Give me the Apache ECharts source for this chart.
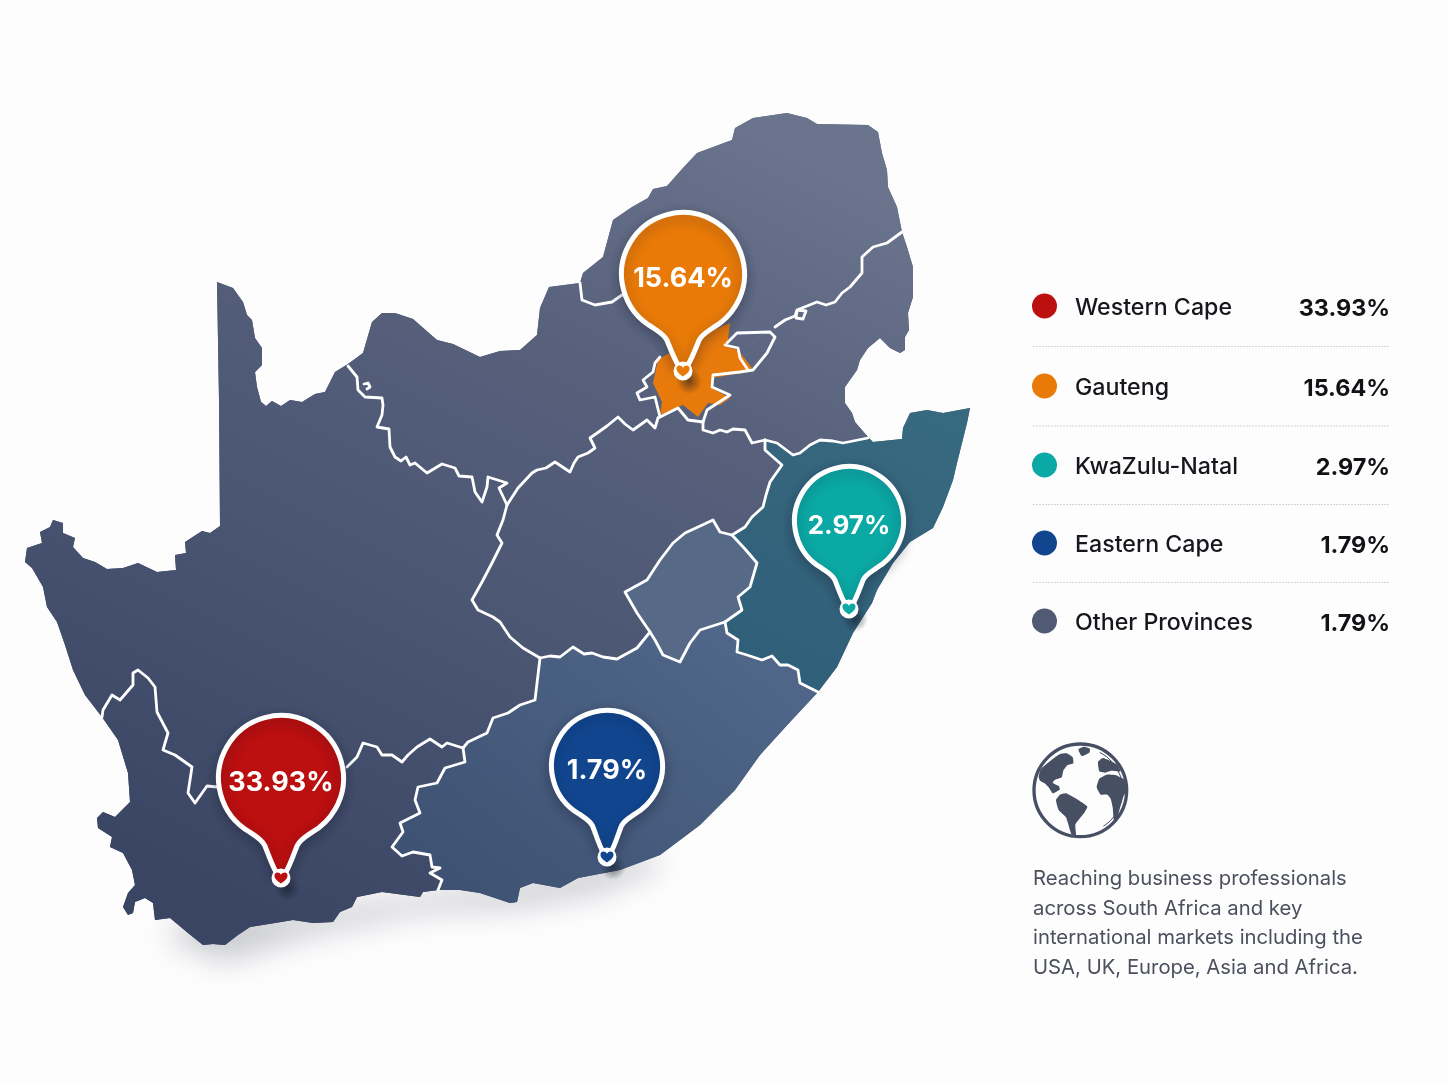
<!DOCTYPE html>
<html>
<head>
<meta charset="utf-8">
<title>South Africa reach</title>
<style>
html,body{margin:0;padding:0;background:#fdfdfe;}
#chart{width:1448px;height:1086px;}
</style>
<script src="https://cdn.jsdelivr.net/npm/echarts@6/dist/echarts.min.js"></script>
</head>
<body>
<div id="chart"></div>
<script>
// legend / pins
var names = ['Western Cape', 'Gauteng', 'KwaZulu-Natal', 'Eastern Cape', 'Other Provinces'];
var shares = [33.93, 15.64, 2.97, 1.79, 1.79];
var colors = ['#bb0f10', '#e97a08', '#0ba9a5', '#11468f', '#505a73'];
var pinTips = [[281, 878], [683, 371], [849, 609], [607, 857]];
var pinRadius = [65, 64, 57, 58];
var pinDrop = [100, 97, 88, 91];
var pinFont = [27, 27, 26, 27];
var blurb = ['Reaching business professionals', 'across South Africa and key', 'international markets including the', 'USA, UK, Europe, Asia and Africa.'];

// coast, clockwise
var coastNC = [[102,717],[85,695],[73,670],[65,645],[57,622],[47,607],[43,587],[32,568],[25,562],[27,548],[42,543],[40,532],[50,527],[53,520],[63,523],[63,533],[75,538],[73,547],[83,558],[95,562],[107,569],[123,568],[138,563],[157,572],[176,570],[175,555],[186,553],[185,542],[202,531],[210,533],[220,526],[219,400],[217,282],[233,288],[243,302],[247,315],[252,320],[255,338],[262,348],[262,365],[255,372],[257,387],[261,402],[266,406],[272,401],[281,406],[290,400],[302,402],[315,394],[325,392],[335,372],[348,364]];
var coastNW = [[348,364],[363,353],[372,322],[382,313],[395,313],[413,319],[437,340],[453,344],[480,357],[500,351],[520,350],[537,335],[540,308],[549,287],[580,283]];
var coastLP = [[580,283],[583,273],[603,257],[613,220],[632,207],[648,198],[653,189],[667,186],[683,168],[697,153],[732,140],[735,128],[753,118],[787,113],[807,118],[817,124],[868,125],[878,132],[882,153],[887,170],[888,187],[897,207],[902,232]];
var coastMP = [[902,232],[907,247],[913,267],[913,297],[908,313],[909,330],[905,337],[905,350],[900,353],[890,348],[880,338],[868,348],[860,360],[857,370],[845,387],[845,403],[852,413],[855,422],[868,437]];
var coastKZN = [[868,437],[873,442],[902,439],[903,428],[910,413],[927,410],[943,413],[970,408],[967,423],[957,463],[953,480],[943,507],[933,528],[910,542],[893,563],[877,590],[872,603],[853,633],[837,667],[818,692]];
var coastEC = [[818,692],[790,722],[760,755],[735,790],[700,825],[660,855],[620,870],[578,878],[560,888],[533,883],[520,888],[517,902],[510,903],[480,893],[460,890],[438,890]];
var coastWC = [[438,890],[423,892],[420,897],[382,892],[357,897],[352,907],[340,912],[333,922],[313,923],[293,920],[275,923],[250,927],[238,935],[225,945],[213,944],[203,945],[188,933],[170,918],[155,920],[153,903],[145,898],[135,902],[133,913],[128,915],[123,907],[128,893],[135,885],[132,870],[123,853],[110,847],[112,837],[98,828],[97,818],[103,812],[115,817],[130,802],[128,773],[118,740],[102,717]];
var southBand = [[165,905],[225,930],[300,905],[420,880],[520,875],[600,860],[660,835],[650,820],[520,850],[300,880],[200,880]];

// province borders
var bNwNc = [[348,366],[357,377],[358,390],[365,397],[382,398],[383,405],[382,415],[377,427],[389,429],[390,447],[395,457],[401,461],[406,457],[410,465],[415,463],[427,473],[442,464],[455,468],[459,476],[472,477],[475,492],[482,502],[487,487],[488,477],[507,483],[499,488],[507,505]];
var bNwFs = [[507,505],[518,488],[532,473],[537,470],[546,468],[555,462],[570,472],[574,463],[578,457],[588,453],[595,448],[590,438],[600,431],[607,426],[618,417],[625,424],[633,430],[647,420],[655,428],[658,418]];
var bFsNc = [[540,658],[523,648],[510,637],[500,622],[493,617],[478,610],[472,600],[482,582],[492,563],[502,543],[497,535],[503,520],[507,505]];
var bFsEc = [[650,632],[637,648],[617,659],[603,657],[592,653],[584,654],[573,647],[560,657],[550,656],[540,658]];
var bFsLes = [[732,535],[720,532],[713,520],[698,527],[685,533],[673,543],[660,560],[647,580],[625,592],[637,613],[650,632]];
var bFsKzn = [[765,440],[765,450],[782,465],[770,482],[766,495],[763,507],[752,517],[745,527],[732,535]];
var bFsGt = [[658,418],[678,408],[688,420],[703,422]];
var bFsMp = [[703,422],[703,430],[713,433],[720,430],[727,432],[733,429],[745,430],[752,443],[765,440]];
var bMpKzn = [[868,438],[843,443],[833,441],[820,440],[810,445],[800,453],[793,455],[777,443],[765,440]];
var bKznLes = [[732,535],[745,549],[757,563],[750,587],[738,597],[742,610],[725,622]];
var bLesEc = [[725,622],[700,630],[690,643],[680,662],[663,655],[655,640],[650,632]];
var bKznEc = [[725,622],[727,633],[738,640],[737,652],[747,655],[753,657],[762,660],[772,656],[780,665],[788,665],[798,670],[800,683],[810,688],[818,692]];
var bNcEc = [[540,658],[535,700],[520,705],[508,713],[493,718],[487,733],[468,742],[463,748]];
var bWcEc = [[463,748],[465,762],[445,768],[437,783],[418,787],[415,800],[420,813],[400,823],[403,832],[392,847],[402,856],[413,852],[430,855],[432,867],[440,868],[430,873],[442,880],[438,890]];
var bNcWc = [[463,748],[447,743],[442,747],[430,739],[417,747],[408,755],[402,762],[392,755],[382,755],[377,747],[363,743],[357,757],[347,767],[217,787],[207,786],[195,803],[188,793],[192,767],[175,755],[163,750],[168,733],[157,712],[155,687],[148,678],[138,670],[133,673],[133,685],[120,700],[112,695],[103,710],[102,717]];
var bLpNw = [[580,283],[582,300],[595,305],[612,302],[622,295],[640,330],[660,357]];
var bGtNw = [[660,357],[655,363],[653,372],[643,380],[647,387],[637,393],[640,400],[655,397],[660,417]];
var bGtMp = [[703,422],[707,410],[730,395],[712,387],[713,375],[740,372],[753,370],[767,353],[775,337],[770,332],[737,333],[727,343]];
var bMpLp = [[775,327],[785,320],[795,316],[797,310],[806,311],[803,319],[796,318],[797,310],[817,302],[826,305],[835,302],[842,293],[850,287],[862,273],[862,257],[873,247],[887,243],[902,232]];
var bPocket = [[725,345],[738,348],[740,358],[748,370]];
var islet = [[364,384],[368,383],[370,387],[367,389]];
var gautengFill = [[653,383],[658,360],[690,340],[730,323],[727,347],[738,350],[752,368],[747,372],[712,378],[712,388],[730,398],[720,405],[708,403],[698,417],[683,405],[660,415],[662,402]];

// globe icon, in 3x px
var globeLand = [
    [[86,140],[92,118],[112,100],[132,84],[150,72],[170,70],[188,82],[190,100],[172,106],[160,122],[155,142],[134,150],[128,158],[146,168],[150,178],[138,186],[128,190],[116,172],[104,160],[90,152]],
    [[205,58],[222,50],[240,56],[238,68],[215,78]],
    [[138,210],[150,194],[168,190],[195,204],[214,216],[232,230],[222,250],[212,262],[196,284],[198,316],[184,312],[174,280],[168,262],[146,240]],
    [[260,172],[268,146],[290,134],[318,136],[344,150],[352,176],[340,200],[332,226],[322,262],[312,272],[308,232],[302,206],[292,194],[272,194]],
    [[264,96],[278,84],[300,92],[322,104],[332,124],[304,122],[284,128],[268,124]],
    [[136,86],[154,78],[166,90],[148,98]]
];

function ring() {
    return [].concat.apply([], arguments);
}
function feature(name, pts) {
    var c = pts.concat([pts[0]]);
    return {type: 'Feature', properties: {name: name}, geometry: {type: 'Polygon', coordinates: [c]}};
}
var inner = [690, 385];
var za = {
    type: 'FeatureCollection',
    features: [
        feature('South coast', southBand),
        feature('Northern Cape', ring(coastNC, bNwNc, bFsNc.slice().reverse(), bNcEc, bNcWc)),
        feature('North West', ring(coastNW, bLpNw, [inner], bFsGt.slice().reverse(), bNwFs.slice().reverse(), bNwNc.slice().reverse())),
        feature('Limpopo', ring(coastLP, bMpLp.slice().reverse(), [inner], bLpNw.slice().reverse())),
        feature('Mpumalanga', ring(coastMP, bMpKzn, bFsMp.slice().reverse(), [inner], bMpLp)),
        feature('Free State', ring(bNwFs, bFsGt, bFsMp, bFsKzn, bFsLes, bFsEc, bFsNc)),
        feature('Lesotho', ring(bFsLes, bLesEc.slice().reverse(), bKznLes.slice().reverse())),
        feature('KwaZulu-Natal', ring(coastKZN, bKznEc.slice().reverse(), bKznLes.slice().reverse(), bFsKzn.slice().reverse(), bMpKzn.slice().reverse())),
        feature('Eastern Cape', ring(coastEC, bWcEc.slice().reverse(), bNcEc.slice().reverse(), bFsEc.slice().reverse(), bLesEc.slice().reverse(), bKznEc)),
        feature('Western Cape', ring(coastWC, bNcWc.slice().reverse(), bWcEc)),
        feature('Gauteng', gautengFill)
    ]
};
echarts.registerMap('za', za);

var borders = [bNwNc, bNwFs, bFsNc, bFsEc, bFsLes, bFsKzn, bFsGt, bFsMp, bMpKzn, bKznLes, bLesEc, bKznEc, bNcEc, bWcEc,
    bNcWc.slice(0, 13), bNcWc.slice(13), bLpNw.slice(0, 5), bGtNw, bGtMp, bMpLp, bPocket, islet];

var pixelProjection = {
    project: function (p) { return [p[0], p[1]]; },
    unproject: function (p) { return [p[0], p[1]]; }
};
var box = {left: 25, top: 113, width: 945, height: 832};

function landFill() {
    return {type: 'linear', x: 720, y: 110, x2: 300, y2: 950, global: true,
        colorStops: [{offset: 0, color: '#6a748d'}, {offset: 0.3, color: '#57617c'}, {offset: 0.6, color: '#4b5673'}, {offset: 1, color: '#394563'}]};
}
function pinPath(R, neck) {
    // round head, small fillet, narrow neck
    var f = function (a, b) { return (a * R).toFixed(2) + ' ' + (b * R).toFixed(2); };
    return 'M' + f(-0.5, 0.866) + ' A' + R + ' ' + R + ' 0 1 1 ' + f(0.5, 0.866) +
        ' C' + f(0.41, 0.93) + ' ' + f(0.31, 0.98) + ' ' + f(0.26, 1.08) +
        ' C' + f(0.21, 1.2) + ' ' + f(0.15, neck - 0.12) + ' ' + f(0.08, neck) +
        ' L' + f(-0.08, neck) +
        ' C' + f(-0.15, neck - 0.12) + ' ' + f(-0.21, 1.2) + ' ' + f(-0.26, 1.08) +
        ' C' + f(-0.31, 0.98) + ' ' + f(-0.41, 0.93) + ' ' + f(-0.5, 0.866) + ' Z';
}
var heart = 'M0 3 C-2 -1 -8 -1 -8 4 C-8 9 -3 12 0 14 C3 12 8 9 8 4 C8 -1 2 -1 0 3 Z';

function renderPin(params, api) {
    var i = params.dataIndex;
    var tip = api.coord([api.value(0), api.value(1)]);
    var r = pinRadius[i];
    var R = r - 2.5;
    var cy = tip[1] - pinDrop[i];
    var neck = (pinDrop[i] - 6) / R;
    var color = colors[i];
    return {
        type: 'group',
        children: [
            {type: 'ellipse', shape: {cx: tip[0] + 6, cy: tip[1] + 10, rx: 36, ry: 13},
                style: {fill: {type: 'radial', x: 0.5, y: 0.5, r: 0.5, colorStops: [
                    {offset: 0, color: 'rgba(15,20,35,0.55)'}, {offset: 1, color: 'rgba(15,20,35,0)'}]}}},
            {type: 'path', shape: {pathData: pinPath(R, neck), layout: 'cover', x: tip[0] - R, y: cy - R, width: 2 * R, height: R + neck * R},
                style: {fill: color, stroke: '#fff', lineWidth: 5, shadowColor: 'rgba(15,20,40,0.3)', shadowBlur: 13, shadowOffsetY: 4}},
            {type: 'circle', shape: {cx: tip[0], cy: tip[1], r: 9.5}, style: {fill: '#fff'}},
            {type: 'path', shape: {pathData: heart, layout: 'cover', x: tip[0] - 6.5, y: tip[1] - 5.5, width: 13, height: 11}, style: {fill: color}},
            {type: 'text', style: {x: tip[0], y: cy + 5, text: api.value(2).toFixed(2) + '%', fill: '#fff', align: 'center', verticalAlign: 'middle',
                font: '700 ' + pinFont[i] + 'px Inter'}}
        ]
    };
}

// legend rows and side text
var graphics = [];
var rowY = [306, 386, 465, 543, 621];
names.forEach(function (n, i) {
    graphics.push({type: 'circle', shape: {cx: 1044.5, cy: rowY[i], r: 12.5}, style: {fill: colors[i]}});
    graphics.push({type: 'text', style: {x: 1075, y: rowY[i] + 2.5, text: n, fill: '#15171c', font: '500 23.2px Inter', verticalAlign: 'middle'}});
    graphics.push({type: 'text', style: {x: 1390, y: rowY[i] + 2.5, text: shares[i].toFixed(2) + '%', fill: '#101216', font: '700 23.4px Inter', align: 'right', verticalAlign: 'middle'}});
});
[346.5, 426, 504.5, 582.5].forEach(function (y) {
    graphics.push({type: 'line', shape: {x1: 1033, y1: y, x2: 1390, y2: y}, style: {stroke: '#d4d5d8', lineWidth: 1.2, lineDash: [2, 1]}});
});
var globeKids = [{type: 'circle', shape: {cx: 211, cy: 181, r: 139}, style: {fill: 'rgba(0,0,0,0)', stroke: '#474f63', lineWidth: 10}},
    {type: 'arc', shape: {cx: 211, cy: 181, r: 128, startAngle: -1.1, endAngle: 1.0}, style: {fill: 'none', stroke: '#474f63', lineWidth: 3}}];
globeLand.forEach(function (p) {
    globeKids.push({type: 'polygon', shape: {points: p, smooth: 0.15}, style: {fill: '#474f63'}});
});
graphics.push({type: 'group', x: 1010, y: 730, scaleX: 1 / 3, scaleY: 1 / 3, children: globeKids});
blurb.forEach(function (t, i) {
    graphics.push({type: 'text', style: {x: 1033, y: 879 + i * 29.5, text: t, fill: '#4b505c', font: '400 20.3px Inter', verticalAlign: 'middle'}});
});

function geoCommon(regions, z) {
    return {
        map: 'za', projection: pixelProjection, silent: true, roam: false, z: z,
        left: box.left, top: box.top, width: box.width, height: box.height,
        label: {show: false},
        itemStyle: {areaColor: landFill(), borderWidth: 0},
        emphasis: {disabled: true}, select: {disabled: true},
        regions: regions
    };
}
var option = {
    backgroundColor: '#fdfdfe',
    animation: false,
    geo: [
        geoCommon([
            {name: 'South coast', itemStyle: {shadowColor: 'rgba(20,25,40,0.22)', shadowBlur: 30, shadowOffsetY: 32}}
        ], 0),
        geoCommon([
            {name: 'Eastern Cape', itemStyle: {areaColor: {type: 'linear', x: 0.7, y: 0, x2: 0.2, y2: 1, colorStops: [{offset: 0, color: '#4f6688'}, {offset: 1, color: '#3e5273'}]}}},
            {name: 'KwaZulu-Natal', itemStyle: {areaColor: {type: 'linear', x: 0.8, y: 0, x2: 0.2, y2: 1, colorStops: [{offset: 0, color: '#37697f'}, {offset: 1, color: '#305f79'}]}}},
            {name: 'Lesotho', itemStyle: {areaColor: '#566a88'}},
            {name: 'Gauteng', itemStyle: {areaColor: '#e8790b'}}
        ], 1)
    ],
    graphic: graphics,
    series: [
        {
            type: 'lines', coordinateSystem: 'geo', geoIndex: 1, polyline: true, silent: true, z: 3,
            lineStyle: {color: '#fff', width: 2.8, opacity: 1, join: 'round', cap: 'round'},
            data: borders.map(function (b) { return {coords: b}; })
        },
        {
            type: 'custom', coordinateSystem: 'geo', geoIndex: 1, silent: true, z: 5,
            renderItem: renderPin,
            data: pinTips.map(function (t, i) { return [t[0], t[1], shares[i]]; })
        }
    ]
};
var chart = echarts.init(document.getElementById('chart'));
chart.setOption(option);
</script>
</body>
</html>
